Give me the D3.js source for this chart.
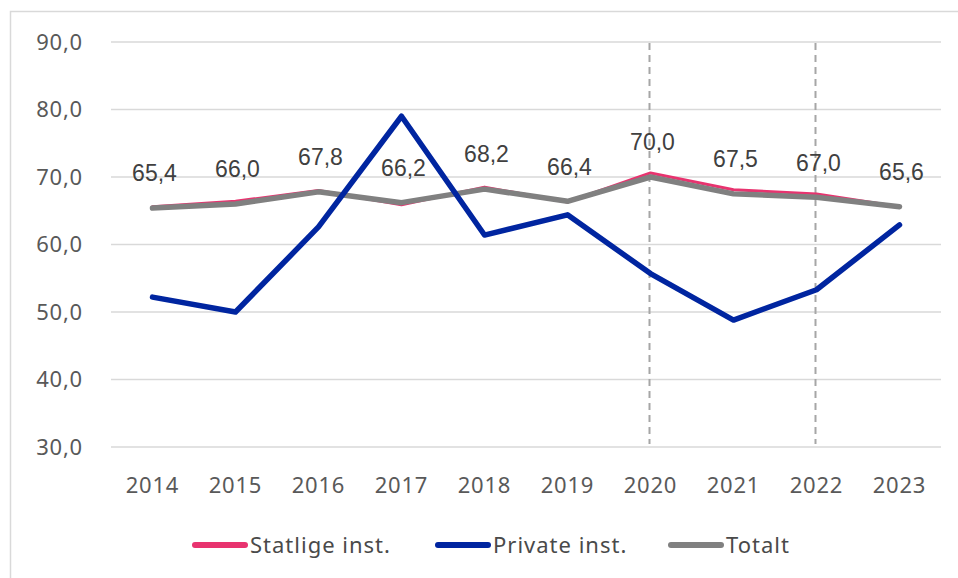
<!DOCTYPE html>
<html>
<head>
<meta charset="utf-8">
<script src="https://cdn.jsdelivr.net/npm/d3@7"></script>
<style>
  body { margin: 0; background: #fff; }
  svg { display: block; }
  .tick-label { font-family: "Noto Sans", sans-serif; font-size: 22px; fill: #595959; letter-spacing: 0.8px; }
  .data-label { font-family: "Liberation Sans", Arial, sans-serif; font-size: 23px; fill: #404040; }
  .legend-label { font-family: "Noto Sans", sans-serif; font-size: 22px; fill: #4a4a4a; letter-spacing: 1px; }
</style>
</head>
<body>
<div id="chart"></div>
<script>
// Data
const years = ['2014', '2015', '2016', '2017', '2018', '2019', '2020', '2021', '2022', '2023'];
const statlige = [65.6, 66.4, 68.0, 65.9, 68.5, 66.3, 70.6, 68.1, 67.5, 65.6];
const privat = [52.2, 50.0, 62.6, 79.0, 61.4, 64.4, 55.7, 48.8, 53.3, 62.9];
const totalt = [65.4, 66.0, 67.8, 66.2, 68.2, 66.4, 70.0, 67.5, 67.0, 65.6];
const yTicks = [30, 40, 50, 60, 70, 80, 90];
const markedYears = ['2020', '2022'];
const seriesNames = ['Statlige inst.', 'Private inst.', 'Totalt'];

const width = 958, height = 578;
const margin = { top: 42, right: 17, bottom: 131, left: 111 };

const svg = d3.select('#chart').append('svg')
    .attr('width', width)
    .attr('height', height);

// outer frame (runs off the right and bottom edges)
svg.append('rect')
    .attr('x', 10.5).attr('y', 11.5)
    .attr('width', 960).attr('height', 600)
    .attr('fill', 'none')
    .attr('stroke', '#d9d9d9')
    .attr('stroke-width', 1.5);

const x = d3.scaleBand()
    .domain(years)
    .range([margin.left, width - margin.right]);

const y = d3.scaleLinear()
    .domain([30, 90])
    .range([height - margin.bottom, margin.top]);

const cx = d => x(d) + x.bandwidth() / 2;

// gridlines
svg.append('g')
    .selectAll('line')
    .data(yTicks)
    .join('line')
        .attr('x1', margin.left)
        .attr('x2', width - margin.right)
        .attr('y1', d => y(d))
        .attr('y2', d => y(d))
        .attr('stroke', '#d9d9d9')
        .attr('stroke-width', 1.5);

// y labels
svg.append('g')
    .selectAll('text')
    .data(yTicks)
    .join('text')
        .attr('class', 'tick-label')
        .attr('x', 83)
        .attr('y', d => y(d))
        .attr('dy', '0.36em')
        .attr('text-anchor', 'end')
        .text(d => d3.format('.1f')(d).replace('.', ','));

// x labels
svg.append('g')
    .selectAll('text')
    .data(years)
    .join('text')
        .attr('class', 'tick-label')
        .attr('x', d => cx(d))
        .attr('y', y(30) + 38)
        .attr('dy', '0.36em')
        .attr('text-anchor', 'middle')
        .text(d => d);

// dashed markers
svg.append('g')
    .selectAll('line')
    .data(markedYears)
    .join('line')
        .attr('x1', d => cx(d) - 1)
        .attr('x2', d => cx(d) - 1)
        .attr('y1', y(90) + 1)
        .attr('y2', y(30) - 3)
        .attr('stroke', '#a6a6a6')
        .attr('stroke-width', 2)
        .attr('stroke-dasharray', '7,5');

const line = d3.line()
    .x((d, i) => cx(years[i]))
    .y(d => y(d));

const series = [
    { name: seriesNames[0], values: statlige, color: '#e8336f' },
    { name: seriesNames[1], values: privat, color: '#0025a0' },
    { name: seriesNames[2], values: totalt, color: '#808080' }
];

// pink below, gray over it, blue on top
svg.append('path')
    .datum(statlige)
    .attr('fill', 'none')
    .attr('stroke', series[0].color)
    .attr('stroke-width', 3)
    .attr('stroke-linejoin', 'round')
    .attr('stroke-linecap', 'round')
    .attr('d', line);

svg.append('path')
    .datum(totalt)
    .attr('fill', 'none')
    .attr('stroke', series[2].color)
    .attr('stroke-width', 5.5)
    .attr('stroke-linejoin', 'round')
    .attr('stroke-linecap', 'round')
    .attr('d', line);

svg.append('path')
    .datum(privat)
    .attr('fill', 'none')
    .attr('stroke', series[1].color)
    .attr('stroke-width', 5.5)
    .attr('stroke-linejoin', 'round')
    .attr('stroke-linecap', 'round')
    .attr('d', line);

// data labels for Totalt
svg.append('g')
    .selectAll('text')
    .data(totalt)
    .join('text')
        .attr('class', 'data-label')
        .attr('x', (d, i) => cx(years[i]) + 2)
        .attr('y', d => y(d) - 35)
        .attr('dy', '0.36em')
        .attr('text-anchor', 'middle')
        .text(d => d3.format('.1f')(d).replace('.', ','));

// legend
const legendX = [193, 436, 669];
const legend = svg.append('g')
    .selectAll('g')
    .data(series)
    .join('g')
        .attr('transform', (d, i) => 'translate(' + legendX[i] + ',545)');
legend.append('line')
    .attr('x1', 2).attr('x2', 52)
    .attr('stroke', d => d.color)
    .attr('stroke-width', 6)
    .attr('stroke-linecap', 'round');
legend.append('text')
    .attr('class', 'legend-label')
    .attr('x', 57)
    .attr('dy', '0.36em')
    .text(d => d.name);
</script>
</body>
</html>
